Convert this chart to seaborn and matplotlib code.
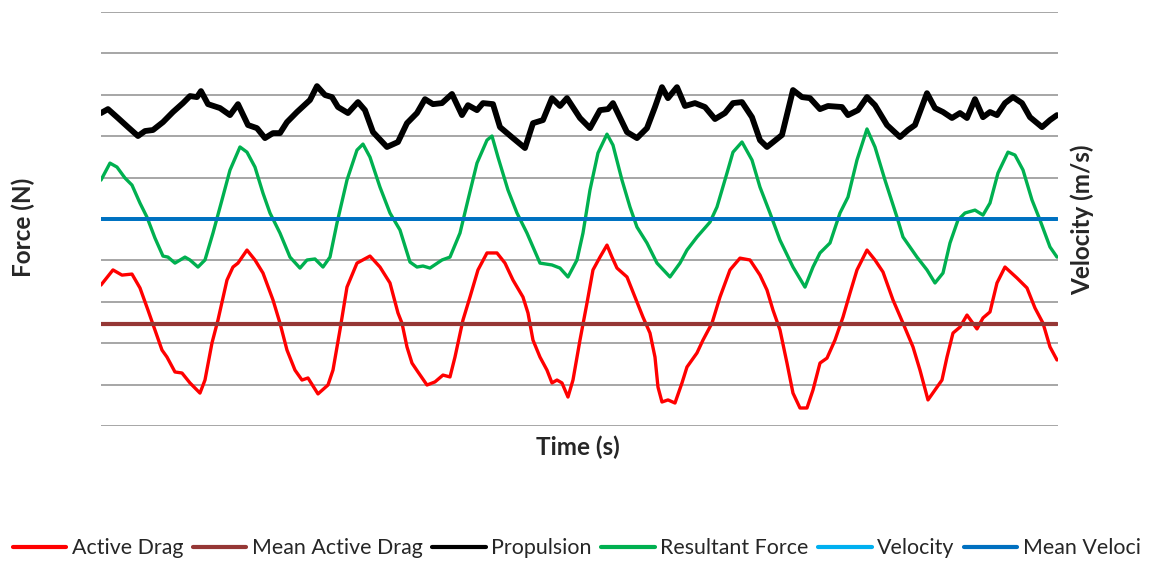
import numpy as np
import pandas as pd
import matplotlib
matplotlib.use("Agg")
import matplotlib.pyplot as plt
import seaborn as sns

# ---------------------------------------------
# data
# time in s, force in N, velocity in m/s
# ---------------------------------------------

t_prop = [0.00, 0.07, 0.17, 0.27, 0.37, 0.44, 0.52, 0.62, 0.72, 0.82, 0.89, 0.96, 1.00, 1.07,
          1.19, 1.29, 1.37, 1.47, 1.56, 1.64, 1.72, 1.79, 1.86, 1.96, 2.09, 2.16, 2.24, 2.31,
          2.37, 2.47, 2.57, 2.64, 2.72, 2.86, 2.97, 3.06, 3.16, 3.24, 3.32, 3.41, 3.51, 3.61,
          3.67, 3.76, 3.82, 3.92, 3.99, 4.12, 4.24, 4.32, 4.42, 4.51, 4.59, 4.66, 4.79, 4.89,
          4.99, 5.07, 5.12, 5.26, 5.36, 5.46, 5.54, 5.61, 5.67, 5.76, 5.84, 5.94, 6.04, 6.14,
          6.24, 6.32, 6.41, 6.51, 6.59, 6.66, 6.81, 6.92, 7.01, 7.09, 7.19, 7.27, 7.41, 7.47,
          7.57, 7.66, 7.74, 7.86, 7.99, 8.07, 8.14, 8.26, 8.34, 8.42, 8.51, 8.59, 8.66, 8.74,
          8.82, 8.89, 8.96, 9.04, 9.12, 9.21, 9.29, 9.41, 9.49, 9.56]
propulsion = [151.2, 153.1, 148.8, 144.4, 140.1, 142.5, 143.0, 146.8, 151.7, 156.0, 159.4, 158.9,
              161.8, 155.5, 153.6, 150.2, 155.5, 145.4, 143.9, 139.1, 141.5, 141.5, 146.8, 151.7,
              157.5, 164.2, 159.9, 158.9, 154.1, 151.2, 156.5, 152.6, 142.0, 134.8, 137.2, 146.3,
              151.2, 157.9, 155.5, 156.0, 160.4, 150.2, 155.0, 152.6, 156.0, 155.5, 144.4, 139.1,
              134.3, 146.3, 147.8, 158.4, 154.6, 158.4, 148.8, 143.9, 152.6, 153.1, 156.0, 142.0,
              139.1, 143.9, 154.1, 163.7, 158.4, 163.7, 154.6, 156.0, 154.1, 148.3, 151.2, 156.0,
              156.5, 149.2, 138.1, 134.8, 140.6, 162.3, 158.9, 158.4, 153.1, 154.6, 154.1, 150.2,
              152.6, 158.9, 155.0, 145.4, 139.6, 143.0, 145.4, 160.8, 153.6, 151.7, 148.8, 151.2,
              148.8, 157.9, 149.2, 151.7, 150.2, 156.0, 158.9, 156.0, 149.2, 144.4, 147.8, 150.2]

t_res = [0.00, 0.09, 0.16, 0.24, 0.31, 0.39, 0.46, 0.54, 0.62, 0.67, 0.74, 0.84, 0.89, 0.97,
         1.04, 1.12, 1.21, 1.29, 1.39, 1.46, 1.54, 1.62, 1.69, 1.79, 1.89, 1.99, 2.06, 2.14,
         2.22, 2.29, 2.36, 2.46, 2.56, 2.62, 2.69, 2.79, 2.89, 2.99, 3.09, 3.16, 3.22, 3.29,
         3.41, 3.49, 3.59, 3.67, 3.76, 3.86, 3.91, 3.97, 4.07, 4.16, 4.26, 4.39, 4.51, 4.59,
         4.67, 4.76, 4.82, 4.89, 4.97, 5.06, 5.12, 5.21, 5.29, 5.36, 5.46, 5.56, 5.69, 5.79,
         5.86, 5.96, 6.09, 6.16, 6.26, 6.32, 6.41, 6.51, 6.59, 6.69, 6.79, 6.92, 7.04, 7.12,
         7.19, 7.29, 7.39, 7.47, 7.56, 7.66, 7.74, 7.84, 7.96, 8.02, 8.16, 8.26, 8.34, 8.42,
         8.49, 8.57, 8.64, 8.74, 8.82, 8.89, 8.97, 9.07, 9.14, 9.22, 9.31, 9.39, 9.49, 9.56]
resultant = [118.8, 127.0, 125.1, 119.8, 116.4, 107.7, 100.9, 90.8, 82.1, 81.6, 78.7, 81.6, 80.2,
             76.8, 80.2, 93.2, 109.2, 123.6, 134.8, 132.3, 125.1, 112.5, 102.9, 93.2, 81.6, 76.3,
             80.2, 80.7, 76.8, 81.6, 98.0, 118.8, 133.3, 136.2, 129.9, 115.4, 102.9, 94.7, 79.2,
             76.8, 77.3, 76.3, 80.2, 81.6, 93.2, 109.2, 127.0, 138.1, 140.1, 129.9, 114.0, 102.9,
             93.2, 78.7, 77.8, 76.3, 72.0, 80.2, 93.2, 114.0, 131.9, 141.0, 135.7, 118.8, 105.8,
             96.1, 88.4, 78.7, 72.0, 78.7, 85.0, 91.3, 98.5, 105.8, 122.2, 132.3, 137.2, 128.5,
             115.4, 102.9, 89.8, 76.8, 67.1, 76.8, 83.6, 88.4, 102.9, 110.6, 128.5, 143.5, 134.8,
             118.8, 100.9, 91.3, 81.6, 75.4, 69.1, 73.9, 88.4, 99.5, 102.9, 104.3, 101.9, 107.7,
             122.2, 132.3, 130.9, 123.7, 109.2, 99.5, 86.5, 81.6]

t_drag = [0.00, 0.12, 0.21, 0.31, 0.39, 0.47, 0.54, 0.61, 0.66, 0.74, 0.81, 0.89, 0.99, 1.04,
          1.11, 1.17, 1.26, 1.32, 1.37, 1.46, 1.54, 1.62, 1.72, 1.79, 1.86, 1.94, 2.01, 2.07,
          2.17, 2.27, 2.32, 2.39, 2.46, 2.56, 2.69, 2.79, 2.89, 2.97, 3.01, 3.06, 3.11, 3.17,
          3.26, 3.34, 3.42, 3.49, 3.54, 3.62, 3.69, 3.77, 3.86, 3.96, 4.04, 4.12, 4.22, 4.27,
          4.32, 4.39, 4.46, 4.51, 4.56, 4.61, 4.67, 4.72, 4.79, 4.86, 4.92, 4.99, 5.06, 5.11,
          5.16, 5.26, 5.34, 5.42, 5.49, 5.54, 5.57, 5.61, 5.67, 5.74, 5.81, 5.86, 5.96, 6.02,
          6.11, 6.19, 6.29, 6.39, 6.49, 6.59, 6.66, 6.72, 6.79, 6.86, 6.92, 6.99, 7.06, 7.12,
          7.19, 7.26, 7.34, 7.42, 7.49, 7.56, 7.66, 7.74, 7.82, 7.92, 8.02, 8.12, 8.19, 8.27,
          8.34, 8.41, 8.46, 8.52, 8.59, 8.66, 8.76, 8.82, 8.89, 8.96, 9.04, 9.16, 9.26, 9.34,
          9.42, 9.49, 9.56]
active_drag = [68.1, 75.4, 72.9, 73.4, 66.7, 56.0, 46.4, 36.7, 33.3, 26.1, 25.6, 20.8, 15.9, 22.2,
               40.1, 51.2, 70.5, 76.8, 78.7, 85.0, 80.2, 73.9, 60.9, 49.7, 36.7, 27.0, 22.2, 23.2,
               15.5, 19.8, 27.0, 46.4, 67.1, 78.7, 82.1, 76.8, 69.1, 54.6, 49.7, 38.2, 30.4, 26.1,
               19.8, 21.3, 24.6, 23.7, 33.3, 51.2, 62.3, 75.4, 83.6, 83.6, 78.7, 70.5, 62.3, 54.6,
               41.5, 33.3, 27.0, 20.8, 22.2, 20.8, 14.0, 22.2, 41.5, 59.4, 75.4, 81.6, 87.4, 81.6,
               76.3, 72.0, 62.3, 52.6, 44.9, 33.3, 18.8, 11.6, 12.6, 11.1, 20.8, 28.5, 35.3, 41.5,
               49.7, 62.3, 75.4, 81.1, 80.2, 72.9, 65.7, 56.0, 46.4, 30.4, 15.9, 8.7, 8.7, 17.4,
               30.4, 32.8, 41.5, 52.6, 64.2, 75.4, 85.0, 80.2, 74.4, 60.9, 49.7, 38.2, 27.0, 12.6,
               17.4, 22.2, 33.3, 44.9, 47.8, 53.6, 46.9, 52.2, 55.1, 69.1, 76.8, 71.5, 66.7, 57.0,
               49.7, 38.2, 31.9]

t_span = [0.00, 9.56]
mean_drag = [49.3, 49.3]
velocity = [1.0, 1.0]
mean_velocity = [1.0, 1.0]

# the last legend entry is cut short in the original chart
labels = ["Active Drag", "Mean Active Drag", "Propulsion", "Resultant Force",
          "Velocity", "Mean Veloci"]
colors = ["#FF0000", "#953735", "#000000", "#00B050", "#00B0F0", "#0070C0"]
widths = [2.4, 3.0, 4.2, 2.4, 2.8, 2.8]

# ---------------------------------------------
# plot
# ---------------------------------------------

sns.set_style("white")
plt.rcParams["font.family"] = ["Lato", "DejaVu Sans"]

fig = plt.figure(figsize=(11.54, 5.62), dpi=100)
ax = fig.add_axes([0.0875, 0.242, 0.8293, 0.7366])
ax2 = ax.twinx()

force = [(t_drag, active_drag), (t_span, mean_drag), (t_prop, propulsion), (t_res, resultant)]
for (t, v), lab, c, w in zip(force, labels[:4], colors[:4], widths[:4]):
    df = pd.DataFrame({"t": t, "v": v})
    sns.lineplot(data=df, x="t", y="v", ax=ax, color=c, linewidth=w, sort=False,
                 estimator=None, label=lab, legend=False)

for (t, v), lab, c, w in zip([(t_span, velocity), (t_span, mean_velocity)],
                             labels[4:], colors[4:], widths[4:]):
    df = pd.DataFrame({"t": t, "v": v})
    sns.lineplot(data=df, x="t", y="v", ax=ax2, color=c, linewidth=w, sort=False,
                 estimator=None, label=lab, legend=False)

ax.set_xlim(0, 9.57)
ax.set_ylim(0, 200)
ax2.set_ylim(0, 2.0)
ax.set_yticks(np.arange(0, 201, 20))
ax.yaxis.grid(True, color="#A6A6A6", linewidth=1.4)
ax.set_axisbelow(True)
for a in (ax, ax2):
    a.tick_params(left=False, right=False, bottom=False,
                  labelleft=False, labelright=False, labelbottom=False)
    a.set_xlabel("")
    a.set_ylabel("")
    for s in a.spines.values():
        s.set_visible(False)

fig.text(0.020, 1 - 227 / 562, "Force (N)", rotation=90, ha="center", va="center",
         fontsize=17.5, fontweight="bold")
fig.text(0.938, 1 - 220 / 562, "Velocity (m/s)", rotation=90, ha="center", va="center",
         fontsize=17.5, fontweight="bold")
fig.text(0.501, 1 - 447 / 562, "Time (s)", ha="center", va="center",
         fontsize=17.5, fontweight="bold")

h1, l1 = ax.get_legend_handles_labels()
h2, l2 = ax2.get_legend_handles_labels()
leg = fig.legend(h1 + h2, l1 + l2, loc="center left", bbox_to_anchor=(13 / 1154, 1 - 548 / 562),
                 ncol=6, frameon=False, fontsize=15.4, handlelength=2.5, handletextpad=0.25,
                 columnspacing=0.45, borderpad=0, borderaxespad=0)
for line in leg.get_lines():
    line.set_linewidth(3.0)

fig.savefig("out.png", dpi=100)
